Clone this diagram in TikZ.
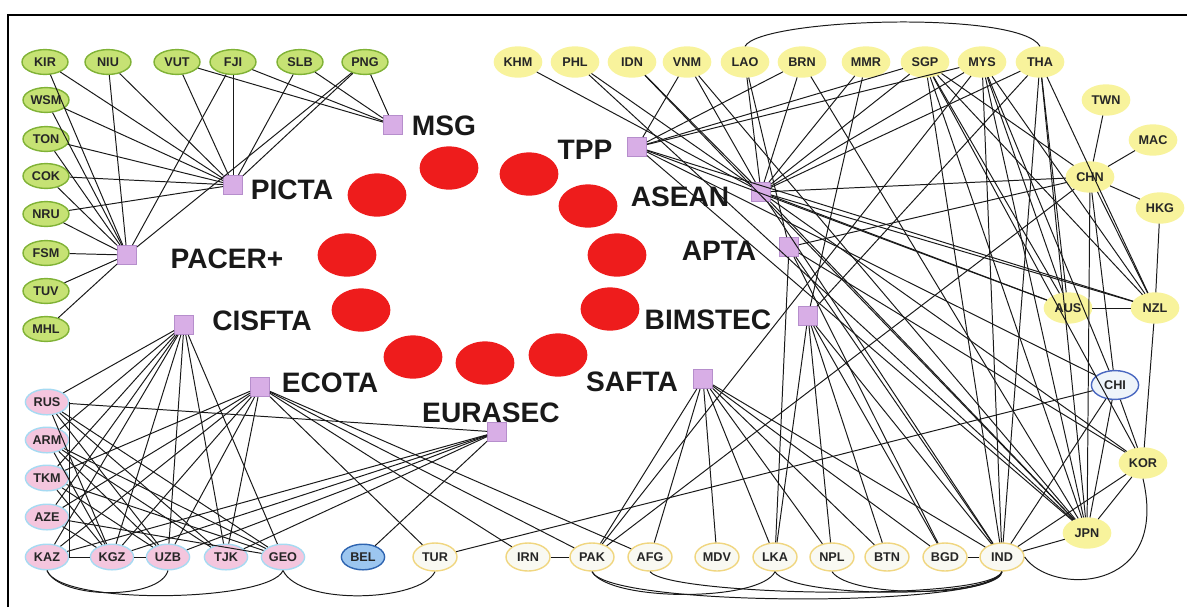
\documentclass[tikz,border=0pt]{standalone}
\usepackage{fontspec}
\setmainfont{Liberation Sans}
\usetikzlibrary{shapes.geometric}

\definecolor{pacfill}{HTML}{C6E274}
\definecolor{pacline}{HTML}{80B236}
\definecolor{cisfill}{HTML}{F4C6DE}
\definecolor{cisline}{HTML}{A6DAF2}
\definecolor{belfill}{HTML}{9CC6F0}
\definecolor{belline}{HTML}{2E64B0}
\definecolor{safill}{HTML}{F9F9F2}
\definecolor{saline}{HTML}{F0D680}
\definecolor{asfill}{HTML}{F8F39C}
\definecolor{chifill}{HTML}{EEF4FA}
\definecolor{chiline}{HTML}{4A68C0}
\definecolor{ftafill}{HTML}{D8AEE6}
\definecolor{ftaline}{HTML}{B68ECC}
\definecolor{dotred}{HTML}{EE1C1C}

\tikzset{
  ctry/.style={ellipse, line width=1pt, minimum width=1.15cm, minimum height=0.68cm,
    inner sep=0pt, text=black!85, font=\bfseries\fontsize{9}{10}\selectfont},
  pac/.style={ctry, fill=pacfill, draw=pacline, minimum height=0.62cm},
  cis/.style={ctry, fill=cisfill, draw=cisline, minimum width=1.08cm, minimum height=0.64cm},
  belc/.style={ctry, fill=belfill, draw=belline, minimum width=1.08cm, minimum height=0.64cm},
  sac/.style={ctry, fill=safill, draw=saline, minimum width=1.1cm, minimum height=0.7cm},
  asc/.style={ctry, fill=asfill, draw=asfill, minimum width=1.18cm, minimum height=0.75cm},
  chic/.style={ctry, fill=chifill, draw=chiline, minimum width=1.18cm, minimum height=0.72cm},
  fta/.style={rectangle, fill=ftafill, draw=ftaline, line width=0.8pt, minimum size=0.47cm, inner sep=0pt},
  ftalabel/.style={inner sep=0pt, text=black!90, font=\bfseries\fontsize{20}{20}\selectfont},
  dot/.style={ellipse, fill=dotred, minimum width=1.47cm, minimum height=1.08cm, inner sep=0pt},
  link/.style={black!90, line width=0.7pt},
}

\begin{document}
\begin{tikzpicture}[x=0.025cm,y=-0.025cm]
  \useasboundingbox (0,0) rectangle (1187,607);
  \draw[line width=2pt] (8,607) -- (8,15) -- (1187,15);

  \node[pac] (kir) at (45,62) {KIR};
  \node[pac] (niu) at (108,62) {NIU};
  \node[pac] (vut) at (177,62) {VUT};
  \node[pac] (fji) at (233,62) {FJI};
  \node[pac] (slb) at (300,62) {SLB};
  \node[pac] (png) at (365,62) {PNG};
  \node[pac] (wsm) at (46,100) {WSM};
  \node[pac] (ton) at (46,139) {TON};
  \node[pac] (cok) at (46,176) {COK};
  \node[pac] (nru) at (46,214) {NRU};
  \node[pac] (fsm) at (46,253) {FSM};
  \node[pac] (tuv) at (46,291) {TUV};
  \node[pac] (mhl) at (46,329) {MHL};

  \node[cis] (rus) at (47,402) {RUS};
  \node[cis] (arm) at (47,440) {ARM};
  \node[cis] (tkm) at (47,478) {TKM};
  \node[cis] (aze) at (47,517) {AZE};
  \node[cis] (kaz) at (47,557) {KAZ};
  \node[cis] (kgz) at (112,557) {KGZ};
  \node[cis] (uzb) at (168,557) {UZB};
  \node[cis] (tjk) at (226,557) {TJK};
  \node[cis] (geo) at (283,557) {GEO};
  \node[belc] (bel) at (363,557) {BEL};
  \node[sac] (tur) at (435,557) {TUR};
  \node[sac] (irn) at (528,557) {IRN};
  \node[sac] (pak) at (592,557) {PAK};
  \node[sac] (afg) at (650,557) {AFG};
  \node[sac] (mdv) at (717,557) {MDV};
  \node[sac] (lka) at (775,557) {LKA};
  \node[sac] (npl) at (832,557) {NPL};
  \node[sac] (btn) at (887,557) {BTN};
  \node[sac] (bgd) at (945,557) {BGD};
  \node[sac] (ind) at (1002,557) {IND};

  \node[asc] (khm) at (518,62) {KHM};
  \node[asc] (phl) at (575,62) {PHL};
  \node[asc] (idn) at (632,62) {IDN};
  \node[asc] (vnm) at (687,62) {VNM};
  \node[asc] (lao) at (745,62) {LAO};
  \node[asc] (brn) at (802,62) {BRN};
  \node[asc] (mmr) at (866,62) {MMR};
  \node[asc] (sgp) at (925,62) {SGP};
  \node[asc] (mys) at (982,62) {MYS};
  \node[asc] (tha) at (1040,62) {THA};
  \node[asc] (twn) at (1106,100) {TWN};
  \node[asc] (mac) at (1153,140) {MAC};
  \node[asc] (chn) at (1090,177) {CHN};
  \node[asc] (hkg) at (1160,208) {HKG};
  \node[asc] (aus) at (1068,308) {AUS};
  \node[asc] (nzl) at (1155,308) {NZL};
  \node[chic] (chi) at (1115,385) {CHI};
  \node[asc] (kor) at (1143,463) {KOR};
  \node[asc] (jpn) at (1087,533) {JPN};

  \node[fta] (msg) at (393,125) {};
  \node[fta] (picta) at (233,185) {};
  \node[fta] (pacer) at (127,255) {};
  \node[fta] (cisfta) at (184,325) {};
  \node[fta] (ecota) at (260,387) {};
  \node[fta] (eurasec) at (497,432) {};
  \node[fta] (safta) at (703,379) {};
  \node[fta] (bimstec) at (808,316) {};
  \node[fta] (apta) at (789,247) {};
  \node[fta] (asean) at (761,192) {};
  \node[fta] (tpp) at (637,147) {};

  \node[ftalabel] (msglabel) at (444,126) {MSG};
  \node[ftalabel] (pictalabel) at (292,190) {PICTA};
  \node[ftalabel] (pacerlabel) at (227,259) {PACER+};
  \node[ftalabel] (cisftalabel) at (262,321) {CISFTA};
  \node[ftalabel] (ecotalabel) at (330,383) {ECOTA};
  \node[ftalabel] (eurasecLabel) at (491,413) {EURASEC};
  \node[ftalabel] (saftalabel) at (632,382) {SAFTA};
  \node[ftalabel] (bimsteclabel) at (708,320) {BIMSTEC};
  \node[ftalabel] (aptalabel) at (719,251) {APTA};
  \node[ftalabel] (aseanlabel) at (680,197) {ASEAN};
  \node[ftalabel] (tpplabel) at (585,150) {TPP};

  \foreach \x/\y [count=\i] in {449/168,529/174,588/206,617/255,610/309,558/355,485/363,
      413/357,361/310,347/255,377/195}
    \node[dot] (d\i) at (\x,\y) {};

  \foreach \c in {vut,fji,slb,png} \draw[link] (\c) -- (msg);
  \foreach \c in {kir,niu,vut,fji,slb,png,wsm,ton,cok,nru} \draw[link] (\c) -- (picta);
  \foreach \c in {kir,niu,wsm,ton,cok,nru,fsm,tuv,mhl,fji,png} \draw[link] (\c) -- (pacer);

  \foreach \c in {rus,arm,tkm,aze,kaz,kgz,uzb,tjk,geo} \draw[link] (\c) -- (cisfta);
  \foreach \c in {tkm,aze,kaz,kgz,uzb,tjk,tur,irn,pak,afg} \draw[link] (\c) -- (ecota);
  \foreach \c in {rus,kaz,kgz,uzb,tjk,bel} \draw[link] (\c) -- (eurasec);
  \draw[link] (rus.east) -- (kaz.east);
  \foreach \a/\b in {kaz/kgz,kgz/uzb,rus/kgz,rus/uzb,rus/tjk,rus/geo,arm/kgz,arm/uzb,
      arm/tjk,arm/geo,tkm/kgz,tkm/geo,aze/kgz,aze/geo,tkm/uzb}
    \draw[link] (\a) -- (\b);

  \foreach \c in {pak,afg,mdv,lka,npl,btn,bgd,ind} \draw[link] (\c) -- (safta);
  \foreach \c in {mmr,tha,bgd,btn,ind,npl,lka} \draw[link] (\c) -- (bimstec);
  \foreach \c in {lao,chn,kor,ind,lka,bgd} \draw[link] (\c) -- (apta);
  \foreach \c in {khm,phl,idn,vnm,lao,brn,mmr,sgp,mys,tha,chn,jpn,kor,aus,nzl,ind}
    \draw[link] (\c) -- (asean);
  \foreach \c in {brn,sgp,mys,vnm,aus,nzl,chi,jpn} \draw[link] (\c) -- (tpp);
  \foreach \a/\b in {irn/pak,bgd/ind,aus/nzl,hkg/nzl,nzl/kor,chn/twn,chn/mac,chn/hkg,
      sgp/jpn,sgp/kor,sgp/ind,sgp/aus,sgp/nzl,sgp/chn,mys/jpn,mys/nzl,mys/aus,mys/ind,
      mys/chi,tha/aus,tha/nzl,tha/jpn,tha/ind,chn/pak,chn/nzl,chn/chi,chn/jpn,chi/kor,
      chi/jpn,chi/ind,chi/tur,kor/ind,kor/jpn,jpn/ind,jpn/phl,jpn/idn,jpn/vnm,jpn/brn,
      pak/mys}
    \draw[link] (\a) -- (\b);

  \draw[link] (kaz.south) .. controls (60,600) and (160,600) .. (uzb.south);
  \draw[link] (kaz.south) .. controls (60,606) and (270,602) .. (geo.south);
  \draw[link] (geo.south) .. controls (300,606) and (420,602) .. (tur.south);
  \draw[link] (pak.south) .. controls (610,602) and (760,602) .. (lka.south);
  \draw[link] (afg.south) .. controls (670,596) and (990,602) .. (ind.south);
  \draw[link] (lka.south) .. controls (790,598) and (990,600) .. (ind.south);
  \draw[link] (npl.south) .. controls (850,598) and (990,598) .. (ind.south);
  \draw[link] (pak.south) .. controls (610,608) and (1000,608) .. (ind.south);
  \draw[link] (ind.east) .. controls (1050,595) and (1170,595) .. (kor.south);
  \draw[link] (lao.north) .. controls (760,18) and (1020,10) .. (tha.north);
\end{tikzpicture}
\end{document}
